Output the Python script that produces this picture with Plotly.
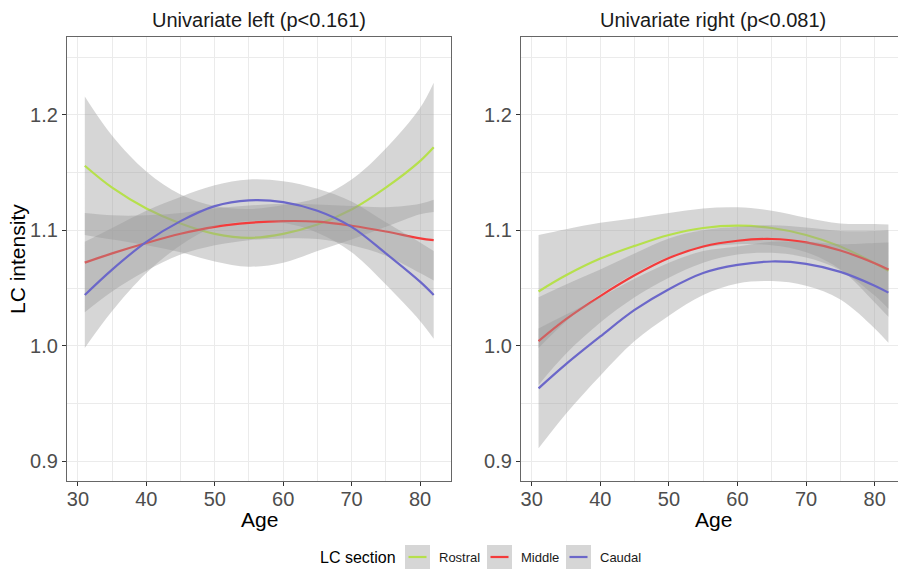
import plotly.graph_objects as go

# Fitted LC intensity by age, with half-width of the confidence band
AGES = [31, 35, 40, 45, 50, 55, 60, 65, 70, 75, 80, 82]

LEFT_ROSTRAL = [1.156, 1.137, 1.119, 1.106, 1.097, 1.0935, 1.097, 1.105, 1.118, 1.137, 1.160, 1.172]
LEFT_ROSTRAL_HW = [0.060, 0.045, 0.032, 0.025, 0.024, 0.025, 0.025, 0.023, 0.026, 0.034, 0.046, 0.056]
LEFT_MIDDLE = [1.072, 1.080, 1.089, 1.097, 1.103, 1.1065, 1.108, 1.1075, 1.104, 1.099, 1.093, 1.0915]
LEFT_MIDDLE_HW = [0.043, 0.033, 0.024, 0.018, 0.016, 0.015, 0.015, 0.015, 0.017, 0.021, 0.030, 0.035]
LEFT_CAUDAL = [1.044, 1.066, 1.090, 1.108, 1.121, 1.126, 1.1245, 1.117, 1.103, 1.080, 1.0555, 1.044]
LEFT_CAUDAL_HW = [0.046, 0.036, 0.027, 0.021, 0.018, 0.018, 0.018, 0.019, 0.022, 0.027, 0.034, 0.038]

RIGHT_ROSTRAL = [1.047, 1.061, 1.0755, 1.0865, 1.0960, 1.1020, 1.104, 1.102, 1.096, 1.086, 1.0715, 1.065]
RIGHT_ROSTRAL_HW = [0.049, 0.040, 0.031, 0.024, 0.019, 0.017, 0.016, 0.015, 0.015, 0.020, 0.034, 0.040]
RIGHT_MIDDLE = [1.004, 1.023, 1.043, 1.061, 1.076, 1.086, 1.091, 1.0925, 1.0895, 1.0825, 1.0715, 1.066]
RIGHT_MIDDLE_HW = [0.038, 0.030, 0.023, 0.019, 0.017, 0.014, 0.012, 0.012, 0.013, 0.017, 0.028, 0.034]
RIGHT_CAUDAL = [0.963, 0.984, 1.008, 1.031, 1.049, 1.063, 1.070, 1.073, 1.071, 1.064, 1.052, 1.046]
RIGHT_CAUDAL_HW = [0.052, 0.043, 0.034, 0.027, 0.023, 0.019, 0.016, 0.017, 0.019, 0.024, 0.037, 0.0435]

SECTIONS = ["Rostral", "Middle", "Caudal"]
COLORS = {"Rostral": "#b6e04c", "Middle": "#f43b3b", "Caudal": "#6b67c9"}
PANEL_TITLES = ["Univariate left (p<0.161)", "Univariate right (p<0.081)"]
X_TICKS = [30, 40, 50, 60, 70, 80]
Y_TICKS = [0.9, 1.0, 1.1, 1.2]
Y_TICK_TEXT = ["0.9", "1.0", "1.1", "1.2"]

W, H = 898, 569
FONT = "Liberation Sans, Arial, Helvetica, sans-serif"
RIBBON = "rgba(153,153,153,0.4)"
GRID = "#ebebeb"

panels = [
    ("x", "y", {"Rostral": (LEFT_ROSTRAL, LEFT_ROSTRAL_HW),
                "Middle": (LEFT_MIDDLE, LEFT_MIDDLE_HW),
                "Caudal": (LEFT_CAUDAL, LEFT_CAUDAL_HW)}),
    ("x2", "y2", {"Rostral": (RIGHT_ROSTRAL, RIGHT_ROSTRAL_HW),
                  "Middle": (RIGHT_MIDDLE, RIGHT_MIDDLE_HW),
                  "Caudal": (RIGHT_CAUDAL, RIGHT_CAUDAL_HW)}),
]

fig = go.Figure()

for xa, ya, series in panels:
    for name in SECTIONS:
        fit, hw = series[name]
        lo = [f - h for f, h in zip(fit, hw)]
        hi = [f + h for f, h in zip(fit, hw)]
        fig.add_trace(go.Scatter(
            x=AGES, y=lo, xaxis=xa, yaxis=ya, mode="lines",
            line=dict(width=0, shape="spline"), hoverinfo="skip", showlegend=False))
        fig.add_trace(go.Scatter(
            x=AGES, y=hi, xaxis=xa, yaxis=ya, mode="lines", fill="tonexty",
            fillcolor=RIBBON, line=dict(width=0, shape="spline"),
            hoverinfo="skip", showlegend=False))
        fig.add_trace(go.Scatter(
            x=AGES, y=fit, xaxis=xa, yaxis=ya, mode="lines", name=name,
            line=dict(color=COLORS[name], width=2.2, shape="spline"),
            showlegend=False))


def px_x(p):
    return p / W


def px_y(p):
    return 1 - p / H


common_x = dict(
    tickvals=X_TICKS, ticks="outside", ticklen=4, tickwidth=1, tickcolor="#333333",
    tickfont=dict(family=FONT, size=20, color="#4d4d4d"),
    ticklabelstandoff=-4,
    showgrid=True, gridcolor=GRID, gridwidth=1.1,
    minor=dict(tickvals=[35, 45, 55, 65, 75], showgrid=True, gridcolor=GRID, gridwidth=0.8),
    showline=True, linecolor="#666666", linewidth=1.2, mirror=True,
    zeroline=False, automargin=False, fixedrange=True,
)
common_y = dict(
    tickvals=Y_TICKS, ticktext=Y_TICK_TEXT, ticks="outside", ticklen=4, tickwidth=1,
    tickcolor="#333333", tickfont=dict(family=FONT, size=20, color="#4d4d4d"),
    showgrid=True, gridcolor=GRID, gridwidth=1.1,
    minor=dict(tickvals=[0.95, 1.05, 1.15, 1.25], showgrid=True, gridcolor=GRID, gridwidth=0.8),
    showline=True, linecolor="#666666", linewidth=1.2,
    zeroline=False, automargin=False, fixedrange=True,
    range=[0.8827, 1.2676], domain=[px_y(481), px_y(37)],
)

fig.update_layout(
    width=W, height=H,
    margin=dict(l=0, r=0, t=0, b=0),
    paper_bgcolor="white", plot_bgcolor="white",
    showlegend=False,
    xaxis=dict(common_x, domain=[px_x(67), px_x(451)], range=[28.4, 84.53], anchor="y"),
    yaxis=dict(common_y, anchor="x", mirror=True),
    xaxis2=dict(common_x, domain=[px_x(521), 1.0], range=[28.44, 83.40], anchor="y2"),
    yaxis2=dict(common_y, anchor="x2", mirror=False),
)

annotations = []
# panel titles
for title, cx in zip(PANEL_TITLES, [259, 713]):
    annotations.append(dict(
        text=title, x=px_x(cx), y=px_y(20), xref="paper", yref="paper",
        xanchor="center", yanchor="middle", showarrow=False,
        font=dict(family=FONT, size=20, color="#1a1a1a")))
# axis titles
for cx in [259, 713]:
    annotations.append(dict(
        text="Age", x=px_x(cx), y=px_y(519), xref="paper", yref="paper",
        xanchor="center", yanchor="middle", showarrow=False,
        font=dict(family=FONT, size=21, color="#000000")))
annotations.append(dict(
    text="LC intensity", x=px_x(18), y=px_y(259), xref="paper", yref="paper",
    xanchor="center", yanchor="middle", showarrow=False, textangle=-90,
    font=dict(family=FONT, size=21, color="#000000")))

# legend: title, keys and labels
legend_y = 557
annotations.append(dict(
    text="LC section", x=px_x(398), y=px_y(legend_y), xref="paper", yref="paper",
    xanchor="right", yanchor="middle", showarrow=False,
    font=dict(family=FONT, size=16, color="#000000")))

shapes = []
key_left = {"Rostral": 405, "Middle": 487, "Caudal": 566}
for name in SECTIONS:
    k = key_left[name]
    shapes.append(dict(
        type="rect", xref="paper", yref="paper",
        x0=px_x(k), x1=px_x(k + 25), y0=px_y(570), y1=px_y(545),
        fillcolor=RIBBON, line=dict(width=0), layer="above"))
    shapes.append(dict(
        type="line", xref="paper", yref="paper",
        x0=px_x(k + 3.5), x1=px_x(k + 21.5), y0=px_y(legend_y), y1=px_y(legend_y),
        line=dict(color=COLORS[name], width=2.2), layer="above"))
    annotations.append(dict(
        text=name, x=px_x(k + 32), y=px_y(legend_y), xref="paper", yref="paper",
        xanchor="left", yanchor="middle", showarrow=False,
        font=dict(family=FONT, size=13, color="#1a1a1a")))

fig.update_layout(annotations=annotations, shapes=shapes)

fig.write_html("out.html")
